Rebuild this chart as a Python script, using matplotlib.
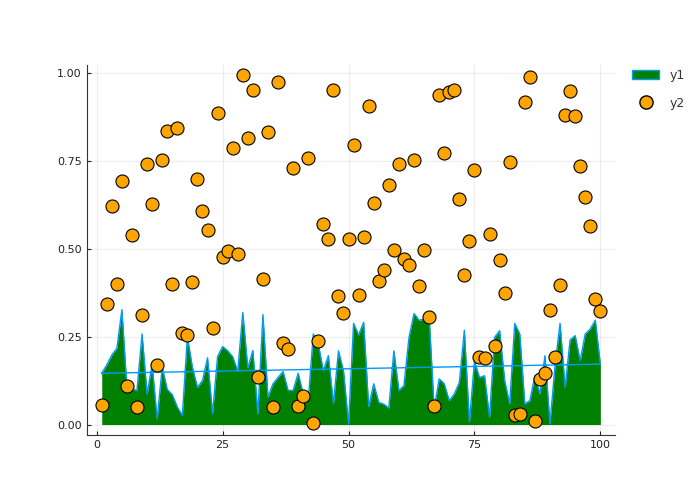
import matplotlib
matplotlib.use("Agg")
import matplotlib.pyplot as plt
from matplotlib.patches import Patch
from matplotlib.lines import Line2D
import numpy as np

x = np.arange(1, 101)

y1 = [0.146, 0.170, 0.198, 0.217, 0.327, 0.105, 0.100, 0.098, 0.258, 0.087,
      0.170, 0.016, 0.163, 0.100, 0.085, 0.050, 0.026, 0.250, 0.163, 0.106,
      0.125, 0.190, 0.031, 0.194, 0.222, 0.210, 0.193, 0.152, 0.319, 0.161,
      0.211, 0.030, 0.313, 0.078, 0.116, 0.134, 0.151, 0.097, 0.097, 0.146,
      0.087, 0.068, 0.258, 0.229, 0.153, 0.196, 0.059, 0.210, 0.153, 0.002,
      0.288, 0.255, 0.291, 0.051, 0.116, 0.063, 0.058, 0.047, 0.210, 0.097,
      0.111, 0.248, 0.316, 0.297, 0.300, 0.310, 0.045, 0.130, 0.116, 0.068,
      0.087, 0.120, 0.269, 0.007, 0.180, 0.134, 0.139, 0.021, 0.248, 0.267,
      0.125, 0.059, 0.288, 0.258, 0.059, 0.068, 0.139, 0.087, 0.196, 0.002,
      0.168, 0.288, 0.106, 0.241, 0.253, 0.182, 0.258, 0.272, 0.297, 0.172]

y2 = [0.057, 0.344, 0.622, 0.400, 0.693, 0.111, 0.540, 0.051, 0.313, 0.741,
      0.628, 0.170, 0.753, 0.835, 0.400, 0.844, 0.261, 0.256, 0.406, 0.699,
      0.608, 0.554, 0.276, 0.886, 0.477, 0.494, 0.787, 0.486, 0.994, 0.815,
      0.952, 0.136, 0.415, 0.832, 0.051, 0.974, 0.233, 0.216, 0.730, 0.054,
      0.080, 0.759, 0.003, 0.239, 0.571, 0.528, 0.952, 0.366, 0.318, 0.528,
      0.795, 0.369, 0.534, 0.906, 0.630, 0.409, 0.440, 0.682, 0.497, 0.741,
      0.472, 0.455, 0.753, 0.395, 0.497, 0.307, 0.054, 0.937, 0.773, 0.946,
      0.952, 0.642, 0.426, 0.523, 0.724, 0.193, 0.190, 0.543, 0.224, 0.469,
      0.375, 0.747, 0.028, 0.031, 0.918, 0.989, 0.011, 0.131, 0.148, 0.327,
      0.193, 0.398, 0.881, 0.949, 0.878, 0.736, 0.648, 0.565, 0.358, 0.324]

blue = "#009AFA"
green = "#008000"
orange = "#FFA500"

fig = plt.figure(figsize=(7, 5), dpi=100)
ax = fig.add_axes([0.124, 0.13, 0.755, 0.74])

ax.fill_between(x, 0, y1, color=green, linewidth=0)
# outline incl. closing segment back to the first point
ax.plot(np.append(x, x[0]), np.append(y1, y1[0]), color=blue, lw=1)
ax.scatter(x, y2, s=88, color=orange, edgecolor="black", linewidth=0.8, zorder=3)

ax.set_xlim(-1.97, 102.97)
ax.set_ylim(-0.0298, 1.0238)
ax.set_xticks([0, 25, 50, 75, 100])
ax.set_yticks([0, 0.25, 0.5, 0.75, 1.0])
ax.set_yticklabels(["0.00", "0.25", "0.50", "0.75", "1.00"])
ax.tick_params(direction="in", length=3, labelsize=8, colors="#222222")
ax.grid(True, color="black", alpha=0.07, lw=0.8)
ax.set_axisbelow(True)
for s in ["top", "right"]:
    ax.spines[s].set_visible(False)
for s in ["left", "bottom"]:
    ax.spines[s].set_color("#333333")

handles = [Patch(facecolor=green, edgecolor=blue, linewidth=1),
           Line2D([], [], marker="o", ls="", markersize=9.5,
                  markerfacecolor=orange, markeredgecolor="black")]
leg = ax.legend(handles, ["y1", "y2"], loc="upper left",
                bbox_to_anchor=(1.01, 1.02), frameon=False, fontsize=9,
                handlelength=2.2, labelspacing=1.2)
for t in leg.get_texts():
    t.set_color("#333344")

fig.savefig("out.png")
